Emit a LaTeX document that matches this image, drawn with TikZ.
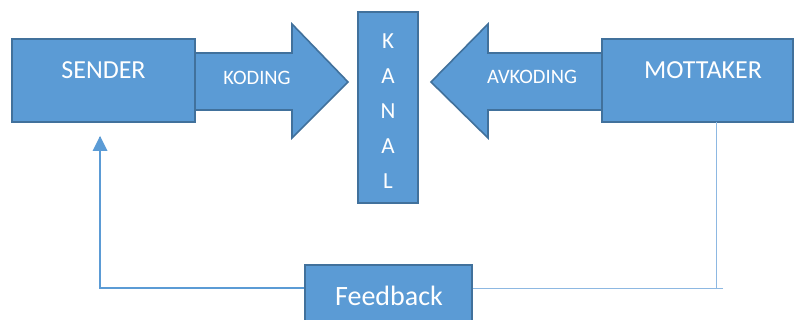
\documentclass[tikz,border=0pt]{standalone}
\usepackage{fontspec}
\setmainfont{Carlito}
\definecolor{boxfill}{HTML}{5B9BD5}
\definecolor{boxline}{HTML}{41719C}
\definecolor{lightline}{HTML}{8DB8E2}
\begin{document}
\begin{tikzpicture}[x=1pt,y=-1pt,
  blk/.style={fill=boxfill,draw=boxline,line width=1.6pt},
  lbl/.style={text=white,inner sep=0pt,anchor=center},
  fb/.style={draw=boxfill,line width=1.8pt},
  fbthin/.style={draw=lightline,line width=0.9pt}]
\useasboundingbox (0,0) rectangle (795,320);
\clip (0,0) rectangle (795,320);
% arrows
\draw[blk] (195,53) -- (292,53) -- (292,24) -- (348,82) -- (292,138) -- (292,110) -- (195,110) -- cycle;
\draw[blk] (602,53) -- (488,53) -- (488,24) -- (431,82) -- (488,138) -- (488,110) -- (602,110) -- cycle;
\node[lbl,font=\fontsize{20.5}{24}\selectfont] (kod) at (257,78) {KODING};
\node[lbl,font=\fontsize{20.5}{24}\selectfont] (avkod) at (532,77) {AVKODING};
% boxes
\draw[blk] (12,39) rectangle (195,122);
\node[lbl,font=\fontsize{26}{30}\selectfont] (sender) at (103.5,70) {SENDER};
\coordinate (senderbox) at (103.5,122);
\draw[blk] (602,39) rectangle (793,122);
\node[lbl,font=\fontsize{26}{30}\selectfont] (mott) at (703,70) {MOTTAKER};
\draw[blk] (358,12) rectangle (418,203);
\foreach \l/\y [count=\i] in {K/41,A/76,N/111,A/146,L/181}
  \node[lbl,font=\fontsize{23}{26}\selectfont] (kanal\i) at (388,\y) {\l};
% feedback lines
\coordinate (mbot) at (716,122);
\coordinate (mcorner) at (716,288);
\coordinate (mend) at (723,288);
\coordinate (scorner) at (100,288);
\coordinate (stip) at (100,137);
\draw[fbthin] (mbot) -- (mcorner);
\draw[fbthin] (mend) -- (472,288);
\draw[fb] (305,288) -- (scorner) -- (stip);
\fill[boxfill] (100,136) -- (92.5,151) -- (107.5,151) -- cycle;
\draw[blk] (305,265) rectangle (472,335);
\node[lbl,font=\fontsize{28}{32}\selectfont] (feedback) at (389,296) {Feedback};
\end{tikzpicture}
\end{document}
